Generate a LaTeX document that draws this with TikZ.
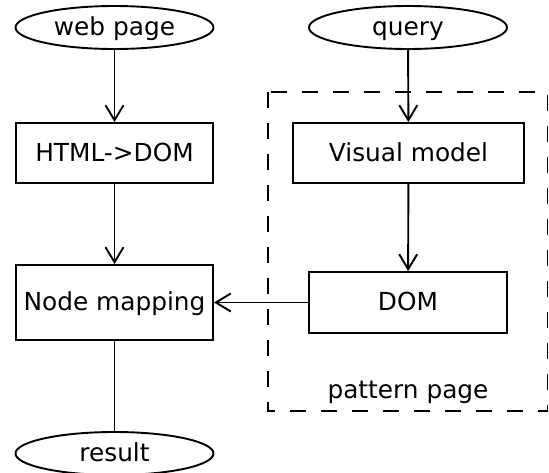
\documentclass[tikz,border=0pt]{standalone}
\usepackage{fontspec}
\setmainfont{DejaVu Sans}
\usetikzlibrary{shapes.geometric,arrows.meta}

\begin{document}
\begin{tikzpicture}[x=1pt,y=-1pt,line width=1.9pt,
    font=\fontsize{24.8}{29}\selectfont,
    every node/.style={text height=18pt,text depth=1.5pt},
    term/.style={draw,ellipse,inner sep=0pt,minimum width=198pt,minimum height=43pt},
    block/.style={draw,rectangle,inner sep=0pt,minimum height=60pt},
    flow/.style={-{Straight Barb[length=15pt,width=18pt,line width=1.9pt]}}]
    \useasboundingbox (0,0) rectangle (549,472);
    \begin{scope}
    \clip (0,0) rectangle (549,472);
    \node [term] (web) at (114.5,27.5) {web page};
    \node [term] (query) at (408,27.5) {query};
    \node [block,minimum width=197pt] (html) at (114.5,153) {HTML->DOM};
    \node [block,minimum width=231pt] (visual) at (408.5,153) {Visual model};
    \node [block,minimum width=197pt,minimum height=75pt] (nodemap) at (114.5,302.5) {Node mapping};
    \node [block,minimum width=198pt,minimum height=61pt] (dom) at (408,302.5) {DOM};
    \node [term] (result) at (114.5,453.5) {result};
    \draw [dash pattern=on 16pt off 15pt] (268,92) rectangle (547.5,411);
    \node (pattern) at (408,390) {pattern page};
    \end{scope}
    \draw [flow] (web) -- (html);
    \draw [flow] (html) -- (nodemap);
    \draw [flow] (query) -- (visual);
    \draw [flow] (visual) -- (dom);
    \draw [flow] (dom) -- (nodemap);
    \draw (nodemap) -- (result);
\end{tikzpicture}
\end{document}
